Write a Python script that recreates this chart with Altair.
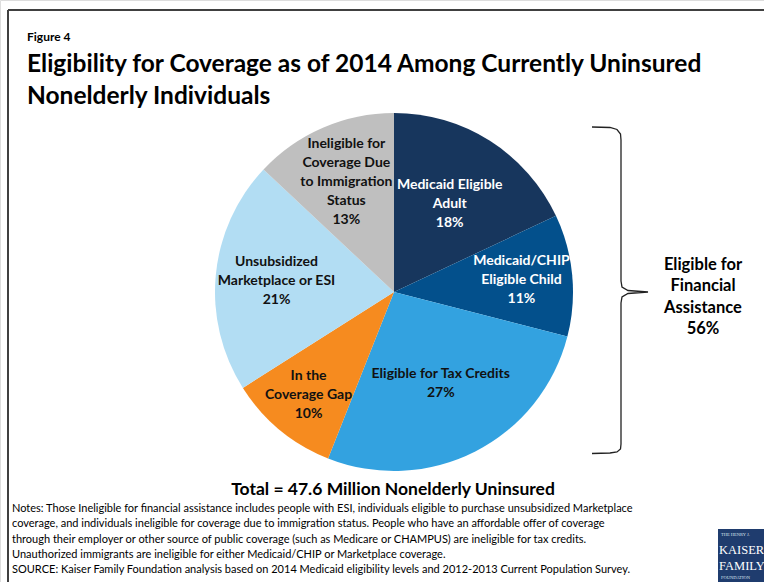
import altair as alt
import pandas as pd

# ---- data ----
categories = [
    "Medicaid Eligible\nAdult",
    "Medicaid/CHIP\nEligible Child",
    "Eligible for Tax Credits",
    "In the\nCoverage Gap",
    "Unsubsidized\nMarketplace or ESI",
    "Ineligible for\nCoverage Due\nto Immigration\nStatus",
]
shares = [18, 11, 27, 10, 21, 13]
slice_colors = ["#17365D", "#03508C", "#33A2E0", "#F68B1F", "#B2DDF3", "#BFBFBF"]
label_colors = ["white", "white", "#111111", "#111111", "#111111", "#111111"]
label_radius = [104, 128, 103, 134, 118, 120]

FONT = "Lato"
W, H = 764, 582
CX, CY, R = 394, 292, 179
LH = 19

df = pd.DataFrame({
    "idx": list(range(len(categories))),
    "cat": categories,
    "value": shares,
    "label": [f"{c}\n{v}%" for c, v in zip(categories, shares)],
    "tcolor": label_colors,
    "lr": label_radius,
})

base = alt.Chart(df)

pie = base.mark_arc(outerRadius=R).encode(
    x=alt.value(CX), y=alt.value(CY),
    theta=alt.Theta("value:Q", stack=True),
    order=alt.Order("idx:Q"),
    color=alt.Color("cat:N", scale=alt.Scale(domain=categories, range=slice_colors), legend=None),
)

labels = base.transform_window(
    cum="sum(value)", sort=[alt.SortField("idx")], frame=[None, 0]
).transform_joinaggregate(
    total="sum(value)"
).transform_calculate(
    mid="(datum.cum - datum.value / 2) / datum.total * 2 * PI",
    nl="split(datum.label, '\\n').length",
    lx=f"{CX} + datum.lr * sin(datum.mid)",
    ly=f"{CY} - datum.lr * cos(datum.mid) - (datum.nl - 1) * {LH} / 2",
).mark_text(font=FONT, fontSize=14, fontWeight="bold", lineBreak="\n",
            lineHeight=LH, align="center", baseline="middle").encode(
    x=alt.X("lx:Q", scale=None), y=alt.Y("ly:Q", scale=None),
    text="label:N",
    color=alt.Color("tcolor:N", scale=None),
)

# ---- decorations ----
one = pd.DataFrame({"a": [0]})
def txt(s, x, y, size, weight="normal", align="left", color="#000000", font=FONT, **kw):
    return alt.Chart(one).mark_text(text=s, font=font, fontSize=size, fontWeight=weight,
                                    align=align, baseline="middle", color=color, **kw).encode(
        x=alt.value(x), y=alt.value(y))

border = pd.DataFrame({
    "x": [8, 8], "y": [10, 10], "x2": [W, 8], "y2": [10, H],
})
border_layer = alt.Chart(border).mark_rule(color="#404040", strokeWidth=2).encode(
    x=alt.X("x:Q", scale=None), y=alt.Y("y:Q", scale=None),
    x2="x2:Q", y2="y2:Q")

brace_pts = [
    (592, 127), (610, 127.5), (617, 129.5), (620.5, 134), (621, 140),
    (621, 281), (622, 287), (628, 290.5), (648, 292),
    (628, 293.5), (622, 297), (621, 303),
    (621, 444), (620.5, 449), (617, 452), (610, 453), (592, 453.5),
]
brace_df = pd.DataFrame({"x": [p[0] for p in brace_pts], "y": [p[1] for p in brace_pts],
                         "o": list(range(len(brace_pts)))})
brace = alt.Chart(brace_df).mark_line(color="#222222", strokeWidth=1.3).encode(
    x=alt.X("x:Q", scale=None), y=alt.Y("y:Q", scale=None), order="o:Q")

right_lines = ["Eligible for", "Financial", "Assistance", "56%"]
right = [txt(s, 703, 265 + 21.3 * i, 16.5, "bold", "center") for i, s in enumerate(right_lines)]

notes = [
    "Notes: Those Ineligible for financial assistance includes people with ESI, individuals eligible to purchase unsubsidized Marketplace",
    "coverage, and individuals ineligible for coverage due to immigration status. People who have an affordable offer of coverage",
    "through their employer or other source of public coverage (such as Medicare or CHAMPUS) are ineligible for tax credits.",
    "Unauthorized immigrants are ineligible for either Medicaid/CHIP or Marketplace coverage.",
    "SOURCE: Kaiser Family Foundation analysis based on 2014 Medicaid eligibility levels and 2012-2013 Current Population Survey.",
]
note_layers = [txt(s, 12, 509 + 15.3 * i, 11) for i, s in enumerate(notes)]

logo_bg = alt.Chart(one).mark_rect(color="#1F3C6E").encode(
    x=alt.value(718), x2=alt.value(W), y=alt.value(529), y2=alt.value(H))
logo = [
    logo_bg,
    txt("THE HENRY J.", 721, 535, 4.5, color="#DDE3EE", font="Liberation Serif"),
    txt("KAISER", 719, 550, 12.5, color="white", font="Liberation Serif"),
    txt("FAMILY", 719, 566, 12.5, color="white", font="Liberation Serif"),
    txt("FOUNDATION", 721, 578, 4.5, color="#DDE3EE", font="Liberation Serif"),
]

layers = [
    border_layer, pie, labels, brace,
    txt("Figure 4", 27, 37, 12, "bold"),
    txt("Eligibility for Coverage as of 2014 Among Currently Uninsured", 27, 65, 24.5, "bold"),
    txt("Nonelderly Individuals", 27, 97, 24.5, "bold"),
    txt("Total = 47.6 Million Nonelderly Uninsured", 393, 490, 17.5, "bold", "center"),
] + right + note_layers + logo

chart = alt.layer(*layers).properties(
    width=W, height=H, autosize=alt.AutoSizeParams(type="none"), padding=0,
).configure_view(stroke=None).configure(background="white")

chart.save("out.html", embed_options={"renderer": "svg", "actions": False})
